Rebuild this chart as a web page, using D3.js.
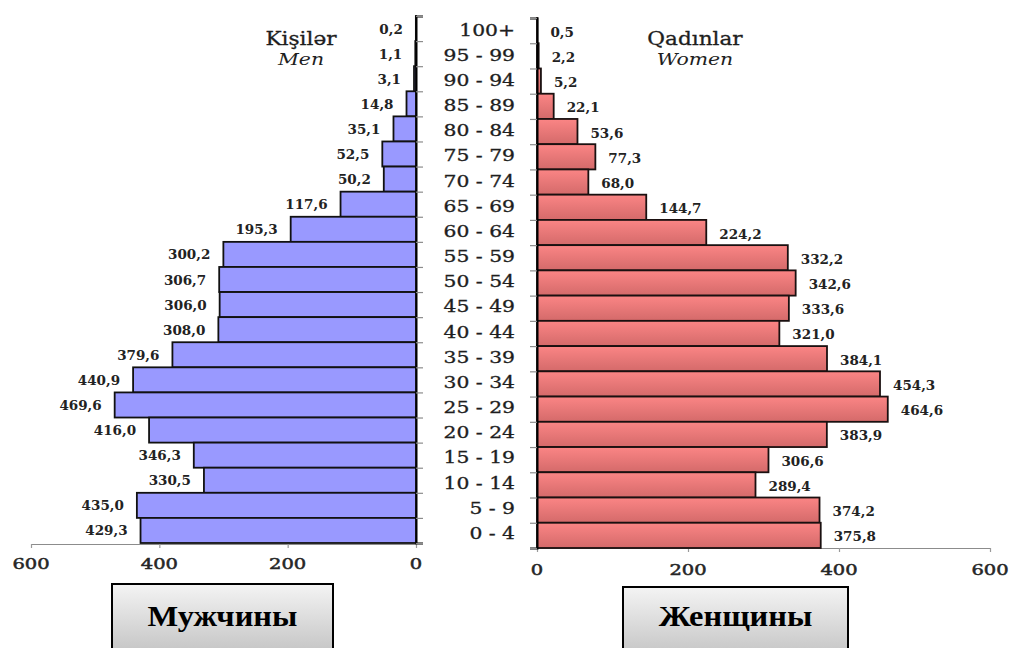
<!DOCTYPE html>
<html>
<head>
<meta charset="utf-8">
<script src="https://cdn.jsdelivr.net/npm/d3@7"></script>
<style>
  html, body { margin: 0; padding: 0; background: #fff; }
  svg { display: block; }
</style>
</head>
<body>
<svg id="chart" width="1010" height="648"></svg>
<script>
// Age groups, oldest at the top
const ageGroups = ["100+", "95 - 99", "90 - 94", "85 - 89", "80 - 84", "75 - 79", "70 - 74",
  "65 - 69", "60 - 64", "55 - 59", "50 - 54", "45 - 49", "40 - 44", "35 - 39", "30 - 34",
  "25 - 29", "20 - 24", "15 - 19", "10 - 14", "5 - 9", "0 - 4"];

// Population, thousands
const menValues = [0.2, 1.1, 3.1, 14.8, 35.1, 52.5, 50.2, 117.6, 195.3, 300.2, 306.7, 306.0,
  308.0, 379.6, 440.9, 469.6, 416.0, 346.3, 330.5, 435.0, 429.3];
const womenValues = [0.5, 2.2, 5.2, 22.1, 53.6, 77.3, 68.0, 144.7, 224.2, 332.2, 342.6, 333.6,
  321.0, 384.1, 454.3, 464.6, 383.9, 306.6, 289.4, 374.2, 375.8];

const xTicks = [0, 200, 400, 600];
const menTitle = ["Kişilər", "Men"];
const womenTitle = ["Qadınlar", "Women"];
const menCaption = "Мужчины";
const womenCaption = "Женщины";

const svg = d3.select("#chart");
const fmt = v => d3.format(".1f")(v).replace(".", ",");
const serif = "'DejaVu Serif', serif";

const menRows = ageGroups.map((a, i) => ({ age: a, value: menValues[i] }));
const womenRows = ageGroups.map((a, i) => ({ age: a, value: womenValues[i] }));

// Scales: each side has its own extent
const xL = d3.scaleLinear().domain([0, 600]).range([416, 31]);
const xR = d3.scaleLinear().domain([0, 600]).range([537, 990]);
const yL = d3.scaleBand().domain(ageGroups).range([16, 543]).padding(0);
const yR = d3.scaleBand().domain(ageGroups).range([18, 548]).padding(0);
const edgeL = d3.scaleLinear().domain([0, ageGroups.length]).range(yL.range());
const edgeR = d3.scaleLinear().domain([0, ageGroups.length]).range(yR.range());

// Gradients
const defs = svg.append("defs");
const gRed = defs.append("linearGradient").attr("id", "redFill")
  .attr("x1", 0).attr("y1", 0).attr("x2", 0).attr("y2", 1);
gRed.append("stop").attr("offset", "0%").attr("stop-color", "#fb8585");
gRed.append("stop").attr("offset", "100%").attr("stop-color", "#d46a6a");
const gBox = defs.append("linearGradient").attr("id", "boxFill")
  .attr("x1", 0).attr("y1", 0).attr("x2", 0).attr("y2", 1);
gBox.append("stop").attr("offset", "0%").attr("stop-color", "#f4f4f4");
gBox.append("stop").attr("offset", "100%").attr("stop-color", "#bdbdbd");

// Bottom axes
function bottomAxis(scale, y, labelDy) {
  const g = svg.append("g").attr("transform", `translate(0,${y})`)
    .call(d3.axisBottom(scale).tickValues(xTicks).tickSize(4).tickSizeOuter(0).tickFormat(""));
  g.select(".domain").attr("stroke", "#8c8c8c").attr("stroke-width", 1.2);
  g.selectAll(".tick line").attr("stroke", "#9a9a9a").attr("stroke-width", 1.2);
  svg.append("g").selectAll("text").data(xTicks).join("text")
    .attr("transform", d => `translate(${scale(d)},${y + labelDy}) scale(1.3,1)`)
    .attr("text-anchor", "middle")
    .attr("font-family", serif).attr("font-size", 15).attr("fill", "#262626")
    .attr("stroke", "#262626").attr("stroke-width", 0.5)
    .text(d => d);
}
bottomAxis(xL, 544, 25);
bottomAxis(xR, 548, 27);

// Men bars
svg.append("g").selectAll("rect").data(menRows).join("rect")
  .attr("x", d => xL(d.value))
  .attr("y", d => yL(d.age))
  .attr("width", d => xL(0) - xL(d.value))
  .attr("height", yL.bandwidth())
  .attr("fill", "#9999ff")
  .attr("stroke", "#111").attr("stroke-width", 1.8);

// Women bars
svg.append("g").selectAll("rect").data(womenRows).join("rect")
  .attr("x", xR(0))
  .attr("y", d => yR(d.age))
  .attr("width", d => xR(d.value) - xR(0))
  .attr("height", yR.bandwidth())
  .attr("fill", "url(#redFill)")
  .attr("stroke", "#1a1010").attr("stroke-width", 1.8);

// Vertical axes with ticks at band edges
const edges = d3.range(ageGroups.length + 1);
const vL = svg.append("g").attr("transform", `translate(${xL(0)},0)`)
  .call(d3.axisRight(edgeL).tickValues(edges).tickSize(7).tickSizeOuter(7).tickFormat(""));
vL.select(".domain").attr("stroke", "#000").attr("stroke-width", 2);
vL.selectAll(".tick line").attr("stroke", "#8c8c8c").attr("stroke-width", 1.2);

const vR = svg.append("g").attr("transform", `translate(${xR(0)},0)`)
  .call(d3.axisLeft(edgeR).tickValues(edges).tickSize(7).tickSizeOuter(7).tickFormat(""));
vR.select(".domain").attr("stroke", "#000").attr("stroke-width", 2);
vR.selectAll(".tick line").attr("stroke", "#8c8c8c").attr("stroke-width", 1.2);

// Age labels between the two halves
svg.append("g").selectAll("text").data(ageGroups).join("text")
  .attr("transform", d => `translate(515,${(yL(d) + yR(d)) / 2 + yL.bandwidth() / 2 + 6}) scale(1.27,1)`)
  .attr("text-anchor", "end")
  .attr("font-family", serif).attr("font-size", 16).attr("fill", "#1e1e1e")
  .attr("stroke", "#1e1e1e").attr("stroke-width", 0.3)
  .text(d => d);

// Value labels
svg.append("g").selectAll("text").data(menRows).join("text")
  .attr("x", d => xL(d.value) - 13)
  .attr("y", d => yL(d.age) + yL.bandwidth() / 2 + 5)
  .attr("text-anchor", "end")
  .attr("font-family", serif).attr("font-weight", "bold").attr("font-size", 13.5).attr("fill", "#222")
  .text(d => fmt(d.value));

svg.append("g").selectAll("text").data(womenRows).join("text")
  .attr("x", d => xR(d.value) + 13)
  .attr("y", d => yR(d.age) + yR.bandwidth() / 2 + 6)
  .attr("text-anchor", "start")
  .attr("font-family", serif).attr("font-weight", "bold").attr("font-size", 13.5).attr("fill", "#222")
  .text(d => fmt(d.value));

// Side titles
function sideTitle(lines, cx) {
  svg.append("text").attr("transform", `translate(${cx},45) scale(1.2,1)`)
    .attr("text-anchor", "middle").attr("font-family", serif).attr("font-size", 18).attr("fill", "#1e1e1e")
    .attr("stroke", "#1e1e1e").attr("stroke-width", 0.3)
    .text(lines[0]);
  svg.append("text").attr("transform", `translate(${cx},65) scale(1.2,1)`)
    .attr("text-anchor", "middle").attr("font-family", serif).attr("font-style", "italic")
    .attr("font-size", 17).attr("fill", "#1e1e1e")
    .text(lines[1]);
}
sideTitle(menTitle, 301);
sideTitle(womenTitle, 695);

// Caption boxes
function captionBox(text, x0, x1, y0) {
  svg.append("rect").attr("x", x0).attr("y", y0).attr("width", x1 - x0).attr("height", 80)
    .attr("fill", "url(#boxFill)").attr("stroke", "#000").attr("stroke-width", 2);
  svg.append("text").attr("transform", `translate(${(x0 + x1) / 2},626) scale(1.12,1)`)
    .attr("text-anchor", "middle").attr("font-family", "'Liberation Serif', 'Times New Roman', serif")
    .attr("font-weight", "bold").attr("font-size", 29).attr("fill", "#000")
    .text(text);
}
captionBox(menCaption, 112, 333, 584);
captionBox(womenCaption, 623, 848, 587);
</script>
</body>
</html>
